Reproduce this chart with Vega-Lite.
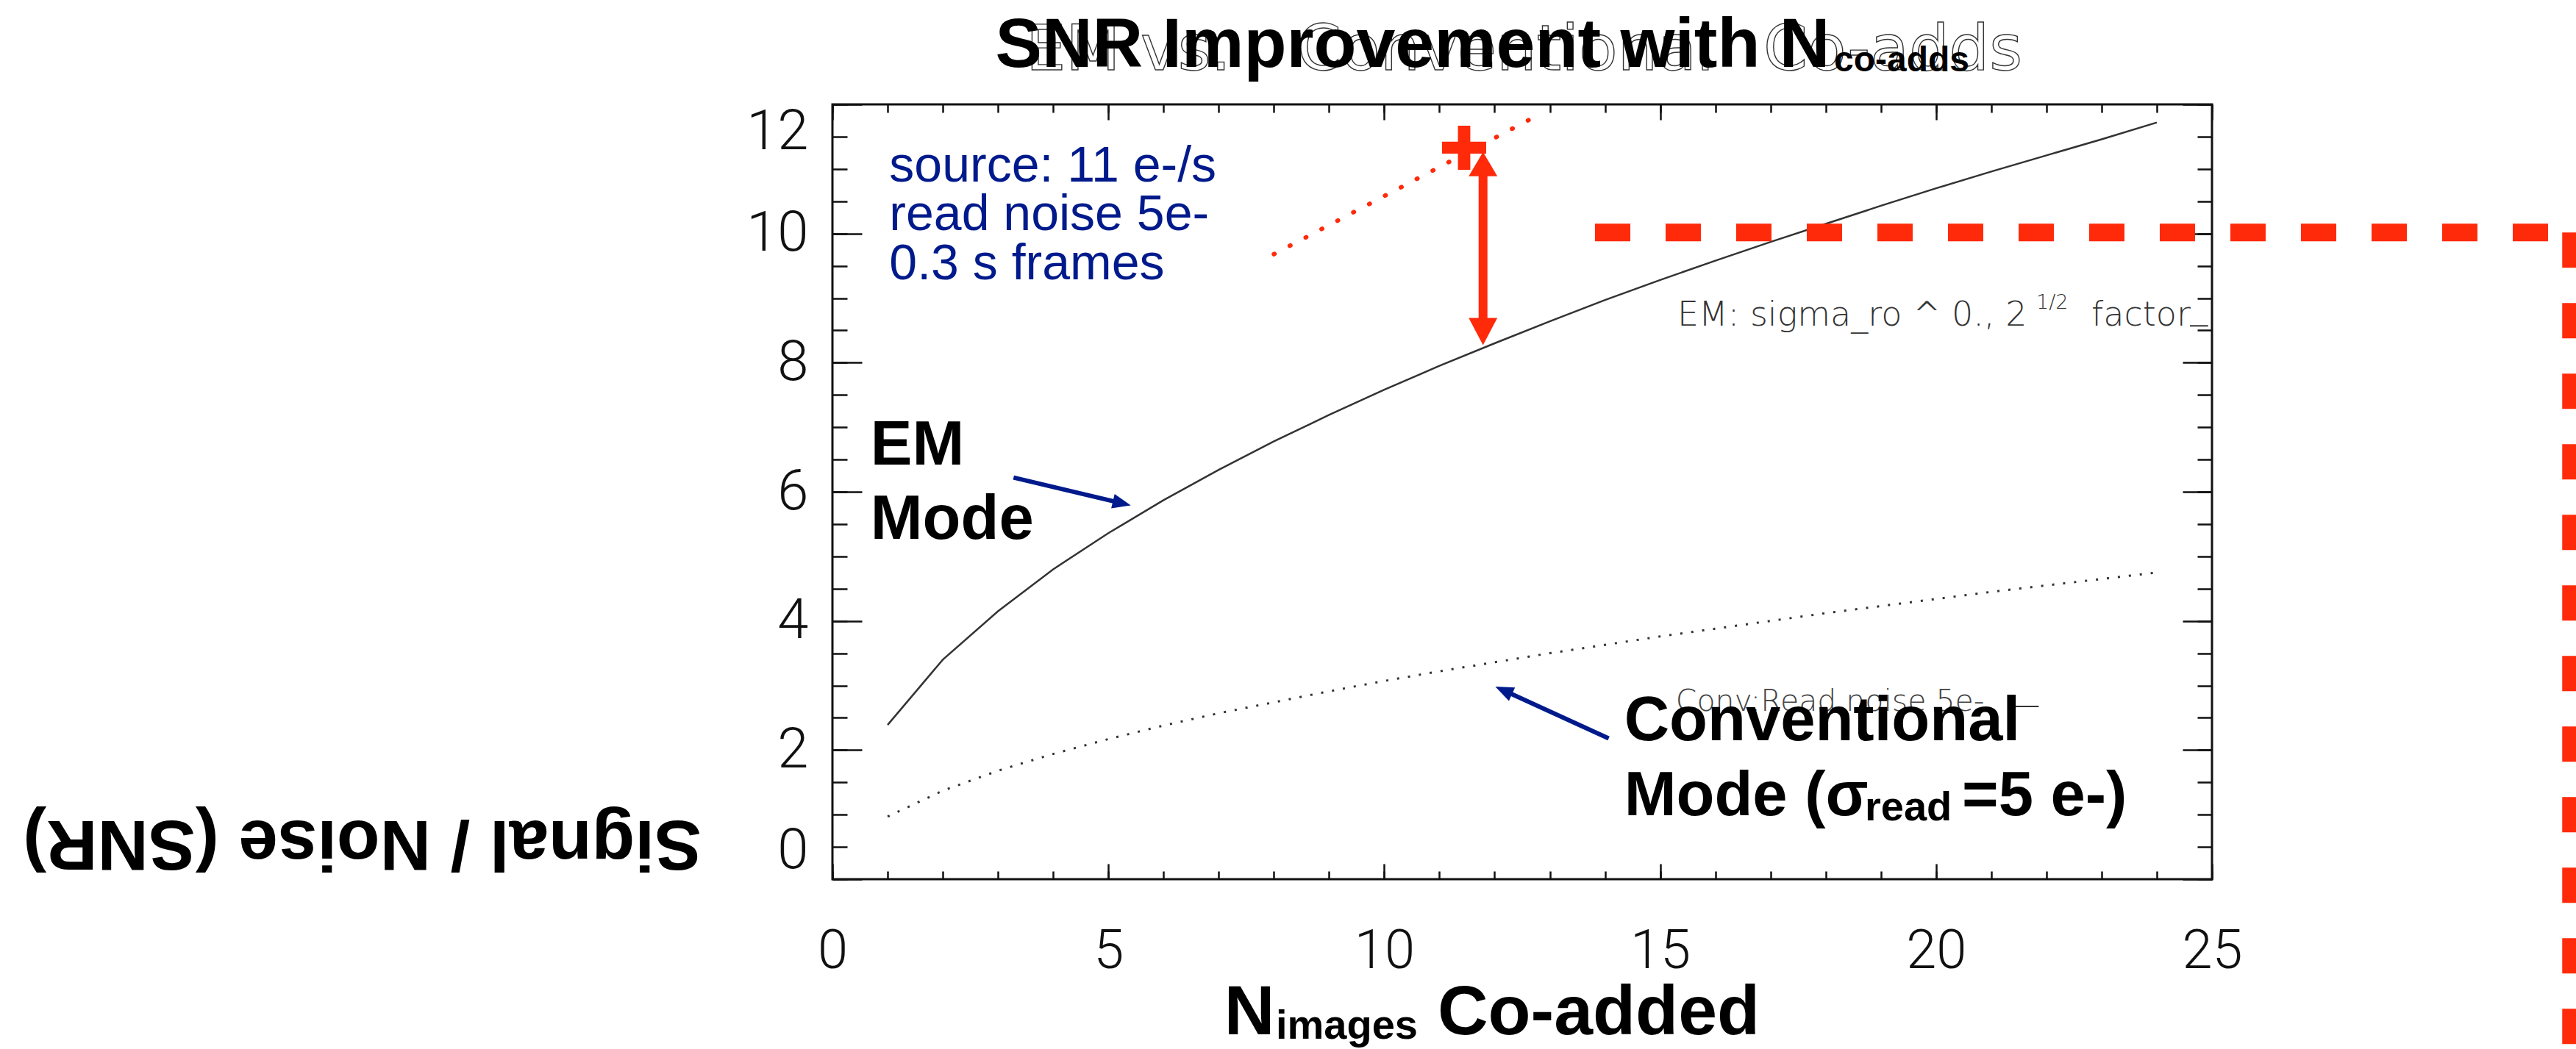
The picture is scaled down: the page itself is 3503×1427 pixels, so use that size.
{
  "$schema": "https://vega.github.io/schema/vega-lite/v6.json",
  "width": 1876,
  "height": 1054,
  "autosize": {"type": "none"},
  "padding": {"left": 1132, "top": 142, "right": 495, "bottom": 231},
  "background": "white",
  "config": {"view": {"stroke": "#111", "strokeWidth": 3}},
  "resolve": {"axis": {"x": "independent", "y": "independent"}},
  "datasets": {
    "em": [
      {"N": 1, "snr": 2.39}, {"N": 2, "snr": 3.40}, {"N": 3, "snr": 4.15}, {"N": 4, "snr": 4.80},
      {"N": 5, "snr": 5.36}, {"N": 6, "snr": 5.87}, {"N": 7, "snr": 6.34}, {"N": 8, "snr": 6.78},
      {"N": 9, "snr": 7.19}, {"N": 10, "snr": 7.58}, {"N": 11, "snr": 7.95}, {"N": 12, "snr": 8.30},
      {"N": 13, "snr": 8.64}, {"N": 14, "snr": 8.97}, {"N": 15, "snr": 9.28}, {"N": 16, "snr": 9.58},
      {"N": 17, "snr": 9.87}, {"N": 18, "snr": 10.15}, {"N": 19, "snr": 10.43}, {"N": 20, "snr": 10.70},
      {"N": 21, "snr": 10.96}, {"N": 22, "snr": 11.21}, {"N": 23, "snr": 11.46}, {"N": 24, "snr": 11.72}
    ],
    "conv": [
      {"N": 1, "snr": 0.97}, {"N": 2, "snr": 1.37}, {"N": 3, "snr": 1.68}, {"N": 4, "snr": 1.94},
      {"N": 5, "snr": 2.17}, {"N": 6, "snr": 2.38}, {"N": 7, "snr": 2.57}, {"N": 8, "snr": 2.74},
      {"N": 9, "snr": 2.91}, {"N": 10, "snr": 3.07}, {"N": 11, "snr": 3.22}, {"N": 12, "snr": 3.36},
      {"N": 13, "snr": 3.50}, {"N": 14, "snr": 3.63}, {"N": 15, "snr": 3.76}, {"N": 16, "snr": 3.88},
      {"N": 17, "snr": 4.00}, {"N": 18, "snr": 4.12}, {"N": 19, "snr": 4.23}, {"N": 20, "snr": 4.34},
      {"N": 21, "snr": 4.45}, {"N": 22, "snr": 4.55}, {"N": 23, "snr": 4.65}, {"N": 24, "snr": 4.75}
    ],
    "reddots": [{"x": 8.0, "y": 9.68}, {"x": 12.89, "y": 11.88}],
    "redshaft": [{"x": 11.79, "y": 11.075, "y2": 8.483}],
    "redtop": [{"x": 11.79, "y": 11.075}],
    "redbot": [{"x": 11.79, "y": 8.483}],
    "plus": [{"x": 11.447, "y": 11.329}],
    "dashh": [{"x": 13.819, "x2": 31.5, "y": 10.015}],
    "dashv": [{"x": 31.5, "y": 10.015, "y2": -2.8}],
    "blueshafts": [
      {"x": 3.282, "y": 6.221, "x2": 5.148, "y2": 5.842},
      {"x": 14.067, "y": 2.18, "x2": 12.254, "y2": 2.889}
    ],
    "headem": [{"x": 5.245, "y": 5.822}],
    "headconv": [{"x": 12.163, "y": 2.924}],
    "ghost": [
      {"x": 3.505, "y": 12.535, "text": "EM vs."},
      {"x": 8.422, "y": 12.535, "text": "Conventional"},
      {"x": 16.871, "y": 12.535, "text": "Co-adds"}
    ],
    "bigbold": [
      {"x": 2.953, "y": 12.585, "text": "SNR Improvement with N"},
      {"x": 7.099, "y": -2.399, "text": "N"},
      {"x": 10.967, "y": -2.399, "text": "Co-added"}
    ],
    "titlesub": [{"x": 18.15, "y": 12.51, "text": "co-adds"}],
    "subs": [
      {"x": 8.036, "y": -2.471, "text": "images"},
      {"x": 18.71, "y": 0.911, "text": "read"}
    ],
    "idl": [
      {"x": 15.312, "y": 8.57, "text": "EM: sigma_ro ^ 0., 2"},
      {"x": 22.815, "y": 8.57, "text": "factor"}
    ],
    "idlconv": [
      {"x": 15.282, "y": 2.607, "text": "Conv:Read noise 5e-"}
    ],
    "idlsup": [{"x": 21.815, "y": 8.835, "text": "1/2"}],
    "idllines": [
      {"x": 24.6, "x2": 24.93, "y": 8.57},
      {"x": 21.3, "x2": 21.86, "y": 2.676}
    ],
    "modes": [
      {"x": 0.69, "y": 6.425, "text": "EM"},
      {"x": 0.69, "y": 5.272, "text": "Mode"},
      {"x": 14.348, "y": 2.147, "text": "Conventional"},
      {"x": 14.348, "y": 0.986, "text": "Mode (σ"},
      {"x": 20.469, "y": 0.986, "text": "=5 e-)"}
    ],
    "ytitle": [{"x": -8.521, "y": 0.569, "text": "Signal / Noise (SNR)"}],
    "blue": [
      {"x": 1.031, "y": 10.808, "text": "source: 11 e-/s"},
      {"x": 1.031, "y": 10.049, "text": "read noise 5e-"},
      {"x": 1.031, "y": 9.29, "text": "0.3 s frames"}
    ]
  },
  "layer": [
    {
      "data": {"name": "ghost"},
      "mark": {"type": "text", "align": "left", "baseline": "alphabetic", "font": "DejaVu Sans", "fontSize": 86, "fill": "transparent", "stroke": "#333", "strokeWidth": 1.4},
      "encoding": {
        "x": {"field": "x", "type": "quantitative", "scale": {"domain": [0, 25], "nice": false, "zero": false}, "axis": null},
        "y": {"field": "y", "type": "quantitative", "scale": {"domain": [0, 12], "nice": false, "zero": false}, "axis": null},
        "text": {"field": "text"}
      }
    },
    {
      "data": {"name": "em"},
      "mark": {"type": "line", "color": "#333", "strokeWidth": 2.5},
      "encoding": {
        "x": {"field": "N", "type": "quantitative", "scale": {"domain": [0, 25], "nice": false, "zero": false},
          "axis": {"orient": "bottom", "values": [0, 5, 10, 15, 20, 25], "ticks": false, "domain": false, "grid": false, "labelPadding": 62, "labelFontSize": 74, "labelFont": "Roboto", "labelFontWeight": 300, "labelColor": "#111", "labelFlush": false, "labelOverlap": false, "title": null}},
        "y": {"field": "snr", "type": "quantitative", "scale": {"domain": [0, 12], "nice": false, "zero": false},
          "axis": {"orient": "left", "values": [0, 2, 4, 6, 8, 10, 12], "ticks": false, "domain": false, "grid": false, "labelPadding": 33, "labelFontSize": 76, "labelFont": "Roboto", "labelFontWeight": 300, "labelColor": "#111", "labelFlush": true, "labelOverlap": false, "title": null}}
      }
    },
    {
      "data": {"name": "conv"},
      "mark": {"type": "line", "color": "#333", "strokeWidth": 3, "strokeDash": [3, 12]},
      "encoding": {
        "x": {"field": "N", "type": "quantitative", "scale": {"domain": [0, 25], "nice": false, "zero": false},
          "axis": {"orient": "bottom", "values": [0, 5, 10, 15, 20, 25], "labels": false, "domain": false, "grid": false, "ticks": true, "tickSize": -21, "tickWidth": 2.5, "tickColor": "#111", "title": null}},
        "y": {"field": "snr", "type": "quantitative", "scale": {"domain": [0, 12], "nice": false, "zero": false},
          "axis": {"orient": "left", "values": [0, 2, 4, 6, 8, 10, 12], "labels": false, "domain": false, "grid": false, "ticks": true, "tickSize": -40, "tickWidth": 2.5, "tickColor": "#111", "title": null}}
      }
    },
    {
      "data": {"name": "reddots"},
      "mark": {"type": "line", "color": "#ff2a0a", "strokeWidth": 6, "strokeDash": [1, 23.4], "strokeCap": "round"},
      "encoding": {
        "x": {"field": "x", "type": "quantitative", "scale": {"domain": [0, 25], "nice": false, "zero": false},
          "axis": {"orient": "bottom", "values": [0,1,2,3,4,5,6,7,8,9,10,11,12,13,14,15,16,17,18,19,20,21,22,23,24,25], "labels": false, "domain": false, "grid": false, "ticks": true, "tickSize": -11, "tickWidth": 2.5, "tickColor": "#111", "title": null}},
        "y": {"field": "y", "type": "quantitative", "scale": {"domain": [0, 12], "nice": false, "zero": false},
          "axis": {"orient": "left", "values": [0,0.5,1,1.5,2,2.5,3,3.5,4,4.5,5,5.5,6,6.5,7,7.5,8,8.5,9,9.5,10,10.5,11,11.5,12], "labels": false, "domain": false, "grid": false, "ticks": true, "tickSize": -20, "tickWidth": 2.5, "tickColor": "#111", "title": null}}
      }
    },
    {
      "data": {"name": "dashh"},
      "mark": {"type": "rule", "color": "#ff2a0a", "strokeWidth": 24, "strokeDash": [48, 48]},
      "encoding": {
        "x": {"field": "x", "type": "quantitative", "scale": {"domain": [0, 25], "nice": false, "zero": false},
          "axis": {"orient": "top", "values": [0, 5, 10, 15, 20, 25], "labels": false, "domain": false, "grid": false, "ticks": true, "tickSize": -21, "tickWidth": 2.5, "tickColor": "#111", "title": null}},
        "x2": {"field": "x2"},
        "y": {"field": "y", "type": "quantitative", "scale": {"domain": [0, 12], "nice": false, "zero": false},
          "axis": {"orient": "right", "values": [0, 2, 4, 6, 8, 10, 12], "labels": false, "domain": false, "grid": false, "ticks": true, "tickSize": -40, "tickWidth": 2.5, "tickColor": "#111", "title": null}}
      }
    },
    {
      "data": {"name": "dashv"},
      "mark": {"type": "rule", "color": "#ff2a0a", "strokeWidth": 23, "strokeDash": [48, 48]},
      "encoding": {
        "x": {"field": "x", "type": "quantitative", "scale": {"domain": [0, 25], "nice": false, "zero": false},
          "axis": {"orient": "top", "values": [0,1,2,3,4,5,6,7,8,9,10,11,12,13,14,15,16,17,18,19,20,21,22,23,24,25], "labels": false, "domain": false, "grid": false, "ticks": true, "tickSize": -11, "tickWidth": 2.5, "tickColor": "#111", "title": null}},
        "y": {"field": "y", "type": "quantitative", "scale": {"domain": [0, 12], "nice": false, "zero": false},
          "axis": {"orient": "right", "values": [0,0.5,1,1.5,2,2.5,3,3.5,4,4.5,5,5.5,6,6.5,7,7.5,8,8.5,9,9.5,10,10.5,11,11.5,12], "labels": false, "domain": false, "grid": false, "ticks": true, "tickSize": -20, "tickWidth": 2.5, "tickColor": "#111", "title": null}},
        "y2": {"field": "y2"}
      }
    },
    {
      "data": {"name": "redshaft"},
      "mark": {"type": "rule", "color": "#ff2a0a", "strokeWidth": 12},
      "encoding": {
        "x": {"field": "x", "type": "quantitative", "scale": {"domain": [0, 25], "nice": false, "zero": false}, "axis": null},
        "y": {"field": "y", "type": "quantitative", "scale": {"domain": [0, 12], "nice": false, "zero": false}, "axis": null},
        "y2": {"field": "y2"}
      }
    },
    {
      "data": {"name": "redtop"},
      "mark": {"type": "point", "filled": true, "fill": "#ff2a0a", "opacity": 1, "strokeWidth": 0, "size": 1521, "shape": "M0,-0.85L1,0.85L-1,0.85Z"},
      "encoding": {
        "x": {"field": "x", "type": "quantitative", "scale": {"domain": [0, 25], "nice": false, "zero": false}, "axis": null},
        "y": {"field": "y", "type": "quantitative", "scale": {"domain": [0, 12], "nice": false, "zero": false}, "axis": null}
      }
    },
    {
      "data": {"name": "redbot"},
      "mark": {"type": "point", "filled": true, "fill": "#ff2a0a", "opacity": 1, "strokeWidth": 0, "size": 1521, "shape": "M0,0.95L1,-0.95L-1,-0.95Z"},
      "encoding": {
        "x": {"field": "x", "type": "quantitative", "scale": {"domain": [0, 25], "nice": false, "zero": false}, "axis": null},
        "y": {"field": "y", "type": "quantitative", "scale": {"domain": [0, 12], "nice": false, "zero": false}, "axis": null}
      }
    },
    {
      "data": {"name": "plus"},
      "mark": {"type": "point", "filled": true, "fill": "#ff2a0a", "opacity": 1, "strokeWidth": 0, "size": 3600, "shape": "M-1,-0.27H-0.28V-1H0.28V-0.27H1V0.27H0.28V1H-0.28V0.27H-1Z"},
      "encoding": {
        "x": {"field": "x", "type": "quantitative", "scale": {"domain": [0, 25], "nice": false, "zero": false}, "axis": null},
        "y": {"field": "y", "type": "quantitative", "scale": {"domain": [0, 12], "nice": false, "zero": false}, "axis": null}
      }
    },
    {
      "data": {"name": "blueshafts"},
      "mark": {"type": "rule", "color": "#001a8c", "strokeWidth": 6},
      "encoding": {
        "x": {"field": "x", "type": "quantitative", "scale": {"domain": [0, 25], "nice": false, "zero": false}, "axis": null},
        "y": {"field": "y", "type": "quantitative", "scale": {"domain": [0, 12], "nice": false, "zero": false}, "axis": null},
        "x2": {"field": "x2"},
        "y2": {"field": "y2"}
      }
    },
    {
      "data": {"name": "headem"},
      "mark": {"type": "point", "filled": true, "fill": "#001a8c", "opacity": 1, "strokeWidth": 0, "size": 625, "angle": 103.4, "shape": "M0,-1L0.8,1L-0.8,1Z"},
      "encoding": {
        "x": {"field": "x", "type": "quantitative", "scale": {"domain": [0, 25], "nice": false, "zero": false}, "axis": null},
        "y": {"field": "y", "type": "quantitative", "scale": {"domain": [0, 12], "nice": false, "zero": false}, "axis": null}
      }
    },
    {
      "data": {"name": "headconv"},
      "mark": {"type": "point", "filled": true, "fill": "#001a8c", "opacity": 1, "strokeWidth": 0, "size": 625, "angle": 294.6, "shape": "M0,-1L0.8,1L-0.8,1Z"},
      "encoding": {
        "x": {"field": "x", "type": "quantitative", "scale": {"domain": [0, 25], "nice": false, "zero": false}, "axis": null},
        "y": {"field": "y", "type": "quantitative", "scale": {"domain": [0, 12], "nice": false, "zero": false}, "axis": null}
      }
    },
    {
      "data": {"name": "idl"},
      "mark": {"type": "text", "align": "left", "baseline": "alphabetic", "font": "DejaVu Sans", "fontWeight": 200, "fontSize": 46, "color": "#333"},
      "encoding": {
        "x": {"field": "x", "type": "quantitative", "scale": {"domain": [0, 25], "nice": false, "zero": false}, "axis": null},
        "y": {"field": "y", "type": "quantitative", "scale": {"domain": [0, 12], "nice": false, "zero": false}, "axis": null},
        "text": {"field": "text"}
      }
    },
    {
      "data": {"name": "idlconv"},
      "mark": {"type": "text", "align": "left", "baseline": "alphabetic", "font": "DejaVu Sans", "fontWeight": 200, "fontSize": 41, "color": "#444"},
      "encoding": {
        "x": {"field": "x", "type": "quantitative", "scale": {"domain": [0, 25], "nice": false, "zero": false}, "axis": null},
        "y": {"field": "y", "type": "quantitative", "scale": {"domain": [0, 12], "nice": false, "zero": false}, "axis": null},
        "text": {"field": "text"}
      }
    },
    {
      "data": {"name": "idlsup"},
      "mark": {"type": "text", "align": "left", "baseline": "alphabetic", "font": "DejaVu Sans", "fontWeight": 200, "fontSize": 27, "color": "#333"},
      "encoding": {
        "x": {"field": "x", "type": "quantitative", "scale": {"domain": [0, 25], "nice": false, "zero": false}, "axis": null},
        "y": {"field": "y", "type": "quantitative", "scale": {"domain": [0, 12], "nice": false, "zero": false}, "axis": null},
        "text": {"field": "text"}
      }
    },
    {
      "data": {"name": "idllines"},
      "mark": {"type": "rule", "color": "#333", "strokeWidth": 2},
      "encoding": {
        "x": {"field": "x", "type": "quantitative", "scale": {"domain": [0, 25], "nice": false, "zero": false}, "axis": null},
        "x2": {"field": "x2"},
        "y": {"field": "y", "type": "quantitative", "scale": {"domain": [0, 12], "nice": false, "zero": false}, "axis": null}
      }
    },
    {
      "data": {"name": "blue"},
      "mark": {"type": "text", "align": "left", "baseline": "alphabetic", "font": "Liberation Sans", "fontSize": 68, "color": "#001a8c"},
      "encoding": {
        "x": {"field": "x", "type": "quantitative", "scale": {"domain": [0, 25], "nice": false, "zero": false}, "axis": null},
        "y": {"field": "y", "type": "quantitative", "scale": {"domain": [0, 12], "nice": false, "zero": false}, "axis": null},
        "text": {"field": "text"}
      }
    },
    {
      "data": {"name": "modes"},
      "mark": {"type": "text", "align": "left", "baseline": "alphabetic", "font": "Liberation Sans", "fontWeight": "bold", "fontSize": 85, "color": "#000"},
      "encoding": {
        "x": {"field": "x", "type": "quantitative", "scale": {"domain": [0, 25], "nice": false, "zero": false}, "axis": null},
        "y": {"field": "y", "type": "quantitative", "scale": {"domain": [0, 12], "nice": false, "zero": false}, "axis": null},
        "text": {"field": "text"}
      }
    },
    {
      "data": {"name": "subs"},
      "mark": {"type": "text", "align": "left", "baseline": "alphabetic", "font": "Liberation Sans", "fontWeight": "bold", "fontSize": 56, "color": "#000"},
      "encoding": {
        "x": {"field": "x", "type": "quantitative", "scale": {"domain": [0, 25], "nice": false, "zero": false}, "axis": null},
        "y": {"field": "y", "type": "quantitative", "scale": {"domain": [0, 12], "nice": false, "zero": false}, "axis": null},
        "text": {"field": "text"}
      }
    },
    {
      "data": {"name": "bigbold"},
      "mark": {"type": "text", "align": "left", "baseline": "alphabetic", "font": "Liberation Sans", "fontWeight": "bold", "fontSize": 95, "color": "#000"},
      "encoding": {
        "x": {"field": "x", "type": "quantitative", "scale": {"domain": [0, 25], "nice": false, "zero": false}, "axis": null},
        "y": {"field": "y", "type": "quantitative", "scale": {"domain": [0, 12], "nice": false, "zero": false}, "axis": null},
        "text": {"field": "text"}
      }
    },
    {
      "data": {"name": "titlesub"},
      "mark": {"type": "text", "align": "left", "baseline": "alphabetic", "font": "Liberation Sans", "fontWeight": "bold", "fontSize": 48, "color": "#000"},
      "encoding": {
        "x": {"field": "x", "type": "quantitative", "scale": {"domain": [0, 25], "nice": false, "zero": false}, "axis": null},
        "y": {"field": "y", "type": "quantitative", "scale": {"domain": [0, 12], "nice": false, "zero": false}, "axis": null},
        "text": {"field": "text"}
      }
    },
    {
      "data": {"name": "ytitle"},
      "mark": {"type": "text", "align": "center", "baseline": "middle", "angle": 180, "font": "Liberation Sans", "fontWeight": "bold", "fontSize": 96, "color": "#000"},
      "encoding": {
        "x": {"field": "x", "type": "quantitative", "scale": {"domain": [0, 25], "nice": false, "zero": false}, "axis": null},
        "y": {"field": "y", "type": "quantitative", "scale": {"domain": [0, 12], "nice": false, "zero": false}, "axis": null},
        "text": {"field": "text"}
      }
    }
  ]
}
